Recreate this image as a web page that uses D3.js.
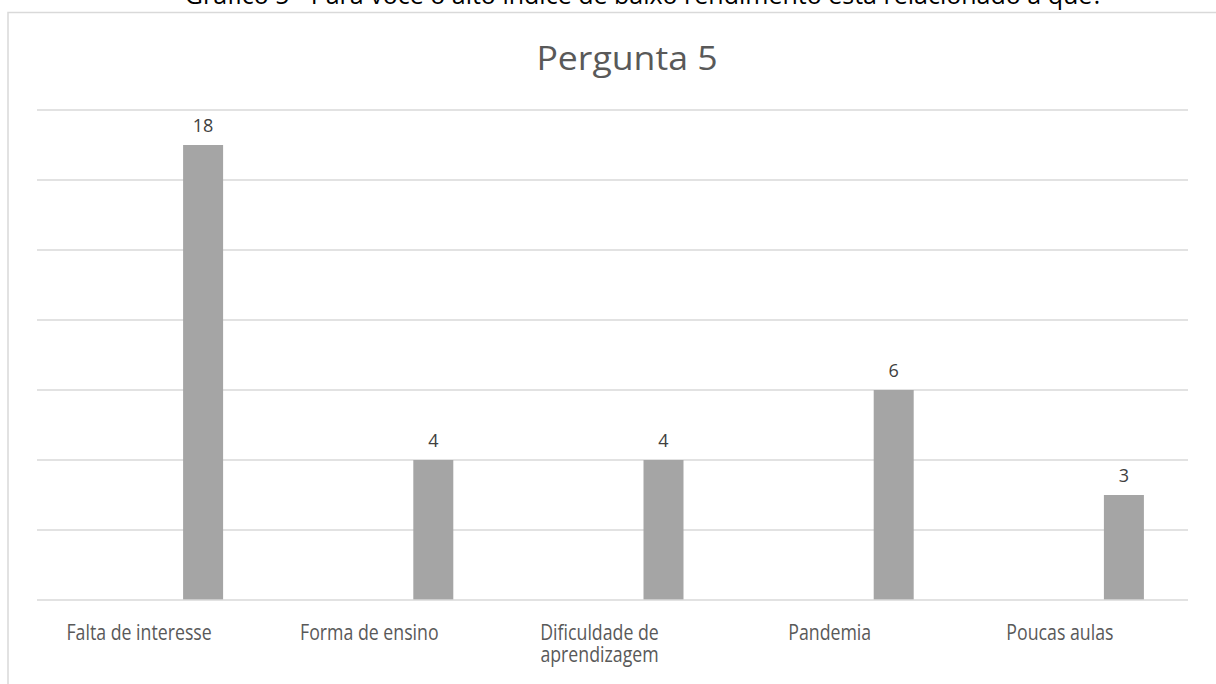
<!DOCTYPE html>
<html>
<head>
<meta charset="utf-8">
<script src="https://cdn.jsdelivr.net/npm/d3@7"></script>
<style>
  html, body { margin: 0; padding: 0; background: #fff; overflow: hidden; }
  svg { display: block; }
  text { font-family: "Open Sans", "Noto Sans", sans-serif; }
</style>
</head>
<body>
<script>
// Survey answers for question 5
const categories = ["Falta de interesse", "Forma de ensino", "Dificuldade de aprendizagem", "Pandemia", "Poucas aulas"];
const counts = [18, 4, 4, 6, 3];
const chartTitle = "Pergunta 5";
const captionText = "Gráfico 5 - Para você o alto índice de baixo rendimento está relacionado a quê?";
const gridSteps = 7;

const W = 1216, H = 684;
const svg = d3.select("body").append("svg").attr("width", W).attr("height", H);

const plot = { left: 37, right: 1188, top: 110, bottom: 600 };

// Caption above the chart frame (partly cut off at the page top)
svg.append("text")
  .attr("x", 644).attr("y", 4)
  .attr("text-anchor", "middle")
  .attr("font-size", 25)
  .attr("fill", "#000")
  .text(captionText);

// Chart frame
svg.append("path")
  .attr("d", `M8,${H} L8,12.5 L${W},12.5`)
  .attr("fill", "none")
  .attr("stroke", "#d9d9d9")
  .attr("stroke-width", 1.5);

// Title
svg.append("text")
  .attr("x", 627).attr("y", 70)
  .attr("text-anchor", "middle")
  .attr("font-size", 33)
  .attr("fill", "#595959")
  .attr("transform", "translate(627,70) scale(1.08,1.02) translate(-627,-70)")
  .text(chartTitle);

// Horizontal gridlines: evenly spaced divisions of the plot height
const gridScale = d3.scaleLinear().domain([0, gridSteps]).range([plot.bottom, plot.top]);
svg.append("g").selectAll("line")
  .data(d3.range(1, gridSteps + 1))
  .join("line")
  .attr("x1", plot.left).attr("x2", plot.right)
  .attr("y1", d => gridScale(d)).attr("y2", d => gridScale(d))
  .attr("stroke", "#d9d9d9").attr("stroke-width", 1.5);

// Category scale
const x = d3.scaleBand().domain(categories).range([plot.left, plot.right]).padding(0);

// Value scale
const y = d3.scaleLinear().domain([0, 6, 18]).range([plot.bottom, 390, 145]);

const barW = 40, barShift = 51;

svg.append("g").selectAll("rect")
  .data(categories.map((c, i) => ({ c, v: counts[i] })))
  .join("rect")
  .attr("x", d => x(d.c) + x.bandwidth() / 2 + barShift - barW / 2)
  .attr("y", d => y(d.v))
  .attr("width", barW)
  .attr("height", d => y(0) - y(d.v))
  .attr("fill", "#a5a5a5");

// Value labels
svg.append("g").selectAll("text")
  .data(categories.map((c, i) => ({ c, v: counts[i] })))
  .join("text")
  .attr("x", d => x(d.c) + x.bandwidth() / 2 + barShift)
  .attr("y", d => y(d.v) - 13)
  .attr("text-anchor", "middle")
  .attr("font-size", 18)
  .attr("fill", "#404040")
  .text(d => d.v);

// Category axis line
svg.append("line")
  .attr("x1", plot.left).attr("x2", plot.right)
  .attr("y1", y(0)).attr("y2", y(0))
  .attr("stroke", "#d9d9d9").attr("stroke-width", 1.5);

// Category labels (wrapped to two lines where needed)
const wrap = { "Dificuldade de aprendizagem": ["Dificuldade de", "aprendizagem"] };
const lab = svg.append("g").selectAll("text")
  .data(categories)
  .join("text")
  .attr("text-anchor", "middle")
  .attr("font-size", 19.5)
  .attr("fill", "#595959")
  .attr("transform", d => {
    const cx = x(d) + x.bandwidth() / 2 - 13;
    return `translate(${cx},640) scale(0.91,1.12)`;
  });
lab.each(function(d) {
  const lines = wrap[d] || [d];
  d3.select(this).selectAll("tspan")
    .data(lines)
    .join("tspan")
    .attr("x", 0)
    .attr("y", (l, i) => i * 20)
    .text(l => l);
});
</script>
</body>
</html>
